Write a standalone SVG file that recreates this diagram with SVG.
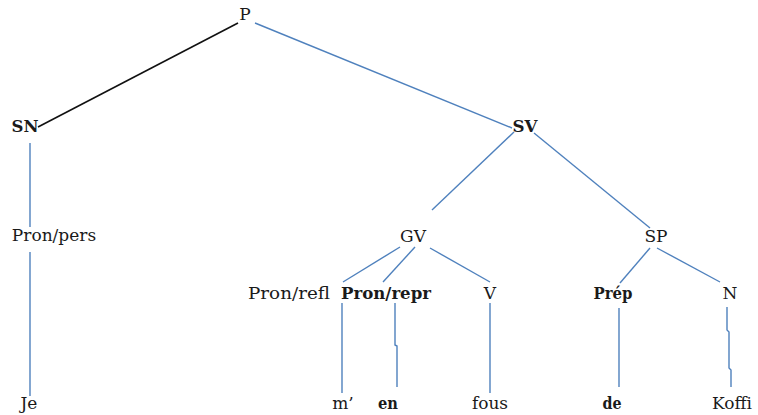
<svg xmlns="http://www.w3.org/2000/svg" width="758" height="415" viewBox="0 0 758 415">
<style>
text{font-family:"DejaVu Serif","Liberation Serif",serif;font-size:17px;fill:#1a1a1a;text-anchor:middle}
.b{font-weight:bold}
.l{stroke:#4f81bd;stroke-width:1.4;fill:none}
.k{stroke:#111;stroke-width:1.6;fill:none}
</style>
<rect width="758" height="415" fill="#fff"/>
<g id="connectors">
<line class="k" x1="238" y1="23" x2="38" y2="127"/>
<line class="l" x1="255" y1="23" x2="512" y2="128"/>
<line class="l" x1="30" y1="143" x2="30" y2="227"/>
<line class="l" x1="30" y1="252" x2="30" y2="396"/>
<line class="l" x1="514" y1="132" x2="432" y2="210"/>
<line class="l" x1="534" y1="133" x2="650" y2="228"/>
<line class="l" x1="400" y1="247" x2="343" y2="282"/>
<line class="l" x1="415" y1="247" x2="383" y2="282"/>
<line class="l" x1="430" y1="248" x2="490" y2="282"/>
<line class="l" x1="650" y1="248" x2="620" y2="283"/>
<line class="l" x1="657" y1="248" x2="720" y2="282"/>
<line class="l" x1="342" y1="303" x2="342" y2="393"/>
<polyline class="l" points="395,303 395,345 397,346 397,387"/>
<line class="l" x1="490" y1="303" x2="490" y2="393"/>
<line class="l" x1="619" y1="308" x2="619" y2="387"/>
<polyline class="l" points="727,307 727,330 729,332 729,368 731,370 731,387"/>
</g>
<g id="P"><text x="245" y="20">P</text></g>
<g id="SN"><text class="b" x="25" y="132" textLength="27" lengthAdjust="spacingAndGlyphs">SN</text></g>
<g id="SV"><text class="b" x="525" y="132" textLength="25" lengthAdjust="spacingAndGlyphs">SV</text></g>
<g id="Pron-pers"><text x="54" y="241">Pron/pers</text></g>
<g id="GV"><text x="413" y="242">GV</text></g>
<g id="SP"><text x="656" y="242">SP</text></g>
<g id="Pron-refl"><text x="289" y="299" textLength="82" lengthAdjust="spacingAndGlyphs">Pron/refl</text></g>
<g id="Pron-repr"><text class="b" x="386" y="299" textLength="90" lengthAdjust="spacingAndGlyphs">Pron/repr</text></g>
<g id="V"><text x="490" y="299">V</text></g>
<g id="Prep"><text class="b" x="613" y="299" textLength="39" lengthAdjust="spacingAndGlyphs">Prép</text></g>
<g id="N"><text x="730" y="299">N</text></g>
<g id="Je"><text x="29" y="409">Je</text></g>
<g id="m"><text x="343" y="409">m’</text></g>
<g id="en"><text class="b" x="388" y="409" textLength="20" lengthAdjust="spacingAndGlyphs">en</text></g>
<g id="fous"><text x="490" y="409">fous</text></g>
<g id="de"><text class="b" x="612" y="409" textLength="19" lengthAdjust="spacingAndGlyphs">de</text></g>
<g id="Koffi"><text x="732" y="409">Koffi</text></g>
</svg>
